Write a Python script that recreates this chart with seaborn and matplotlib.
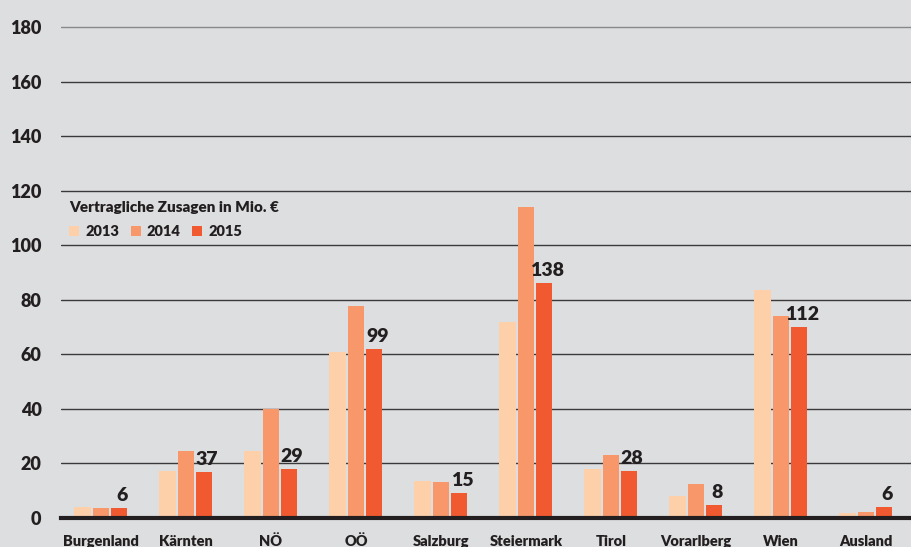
import matplotlib
matplotlib.use("Agg")
import matplotlib.pyplot as plt
import seaborn as sns
import pandas as pd

regions = ["Burgenland", "Kärnten", "NÖ", "OÖ", "Salzburg", "Steiermark",
           "Tirol", "Vorarlberg", "Wien", "Ausland"]
years = ["2013", "2014", "2015"]
v2013 = [4.1, 17.2, 24.6, 61.0, 13.6, 72.0, 18.0, 8.2, 83.6, 1.7]
v2014 = [3.8, 24.7, 40.0, 77.7, 13.2, 114.0, 23.1, 12.5, 74.0, 2.2]
v2015 = [3.8, 16.9, 18.0, 62.0, 9.2, 86.1, 17.2, 4.8, 70.0, 4.0]
labels2015 = ["6", "37", "29", "99", "15", "138", "28", "8", "112", "6"]
yticks = [0, 20, 40, 60, 80, 100, 120, 140, 160, 180]
legend_title = "Vertragliche Zusagen in Mio. €"

colors = ["#FDD0AA", "#F7976A", "#F15A30"]
bg = "#DDDEE0"
dark = "#231F20"

sns.set_theme(style="white")
plt.rcParams["font.family"] = ["Lato", "DejaVu Sans"]

df = pd.DataFrame({
    "region": regions * 3,
    "year": [years[0]] * 10 + [years[1]] * 10 + [years[2]] * 10,
    "value": v2013 + v2014 + v2015,
})

fig = plt.figure(figsize=(9.11, 5.47), dpi=100, facecolor=bg)
ax = fig.add_axes([61 / 911, 29 / 547, 1 - 61 / 911, 1 - 21.5 / 547 - 29 / 547])
ax.set_facecolor(bg)

sns.barplot(data=df, x="region", y="value", hue="year", palette=colors,
            width=0.65, gap=0.12, saturation=1, ax=ax, zorder=3,
            linewidth=0, edgecolor="none")

ax.set_ylim(0, 182)
ax.set_xlim(-0.47, 9.53)
ax.set_yticks(yticks)
ax.set_xlabel("")
ax.set_ylabel("")

for y in yticks[1:]:
    ax.axhline(y, color="#888888" if y == 180 else "#3a3a3a", lw=1.0, zorder=1)

for s in ["top", "right", "left"]:
    ax.spines[s].set_visible(False)
ax.spines["bottom"].set_color(dark)
ax.spines["bottom"].set_linewidth(3.0)
ax.spines["bottom"].set_zorder(5)

ax.tick_params(axis="both", length=0)
ax.tick_params(axis="y", pad=14, labelsize=13, labelcolor=dark)
ax.tick_params(axis="x", pad=12, labelsize=10.5, labelcolor=dark)
for t in ax.get_yticklabels() + ax.get_xticklabels():
    t.set_fontweight("heavy")

for bar, lab in zip(ax.containers[2], labels2015):
    x = bar.get_x() + bar.get_width() / 2
    h = bar.get_height()
    ax.annotate(lab, xy=(x, h), xytext=(2, 5), textcoords="offset points",
                ha="center", va="baseline", fontsize=14, fontweight="heavy",
                color=dark, zorder=6)

leg = ax.legend(title=legend_title, ncol=3, frameon=False, loc="upper left",
                bbox_to_anchor=(69 / 911, 1 - 201 / 547), bbox_transform=fig.transFigure,
                handlelength=0.7, handleheight=0.7, handletextpad=0.4,
                columnspacing=0.8, borderaxespad=0, borderpad=0,
                alignment="left", fontsize=10.5, labelspacing=0.75,
                title_fontproperties={"weight": "heavy", "size": 11})
for t in leg.get_texts():
    t.set_fontweight("heavy")
    t.set_color(dark)
leg.get_title().set_color(dark)

fig.savefig("out.png", dpi=100, facecolor=bg)
